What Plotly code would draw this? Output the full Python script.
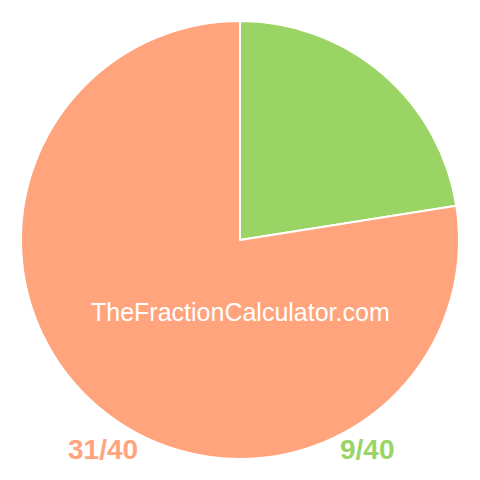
import plotly.graph_objects as go

# fraction parts
labels = ["9/40", "31/40"]
values = [9, 31]
colors = ["#9ad464", "#ffa47c"]

fig = go.Figure()

fig.add_trace(
    go.Pie(
        labels=labels,
        values=values,
        sort=False,
        direction="clockwise",
        rotation=0,
        marker=dict(colors=colors, line=dict(color="white", width=2)),
        textinfo="none",
        hoverinfo="label",
        showlegend=False,
        domain=dict(x=[0.04375, 0.95625], y=[0.04375, 0.95625]),
    )
)

# watermark in the middle
fig.add_annotation(
    text="TheFractionCalculator.com",
    x=0.5, y=1 - 312 / 480, xref="paper", yref="paper",
    xanchor="center", yanchor="middle",
    showarrow=False,
    font=dict(family="Liberation Sans, Arial", size=25, color="white"),
)

# fraction labels below the pie
fig.add_annotation(
    text="<b>31/40</b>",
    x=103 / 480, y=1 - 449 / 480, xref="paper", yref="paper",
    xanchor="center", yanchor="middle",
    showarrow=False,
    font=dict(family="Liberation Sans, Arial", size=28, color=colors[1]),
)
fig.add_annotation(
    text="<b>9/40</b>",
    x=367 / 480, y=1 - 449 / 480, xref="paper", yref="paper",
    xanchor="center", yanchor="middle",
    showarrow=False,
    font=dict(family="Liberation Sans, Arial", size=28, color=colors[0]),
)

fig.update_layout(
    width=480,
    height=480,
    margin=dict(l=0, r=0, t=0, b=0),
    paper_bgcolor="white",
    plot_bgcolor="white",
)

fig.write_html(
    "out.html",
    config={"displayModeBar": False},
    post_script="document.body.style.margin='0px';",
)
